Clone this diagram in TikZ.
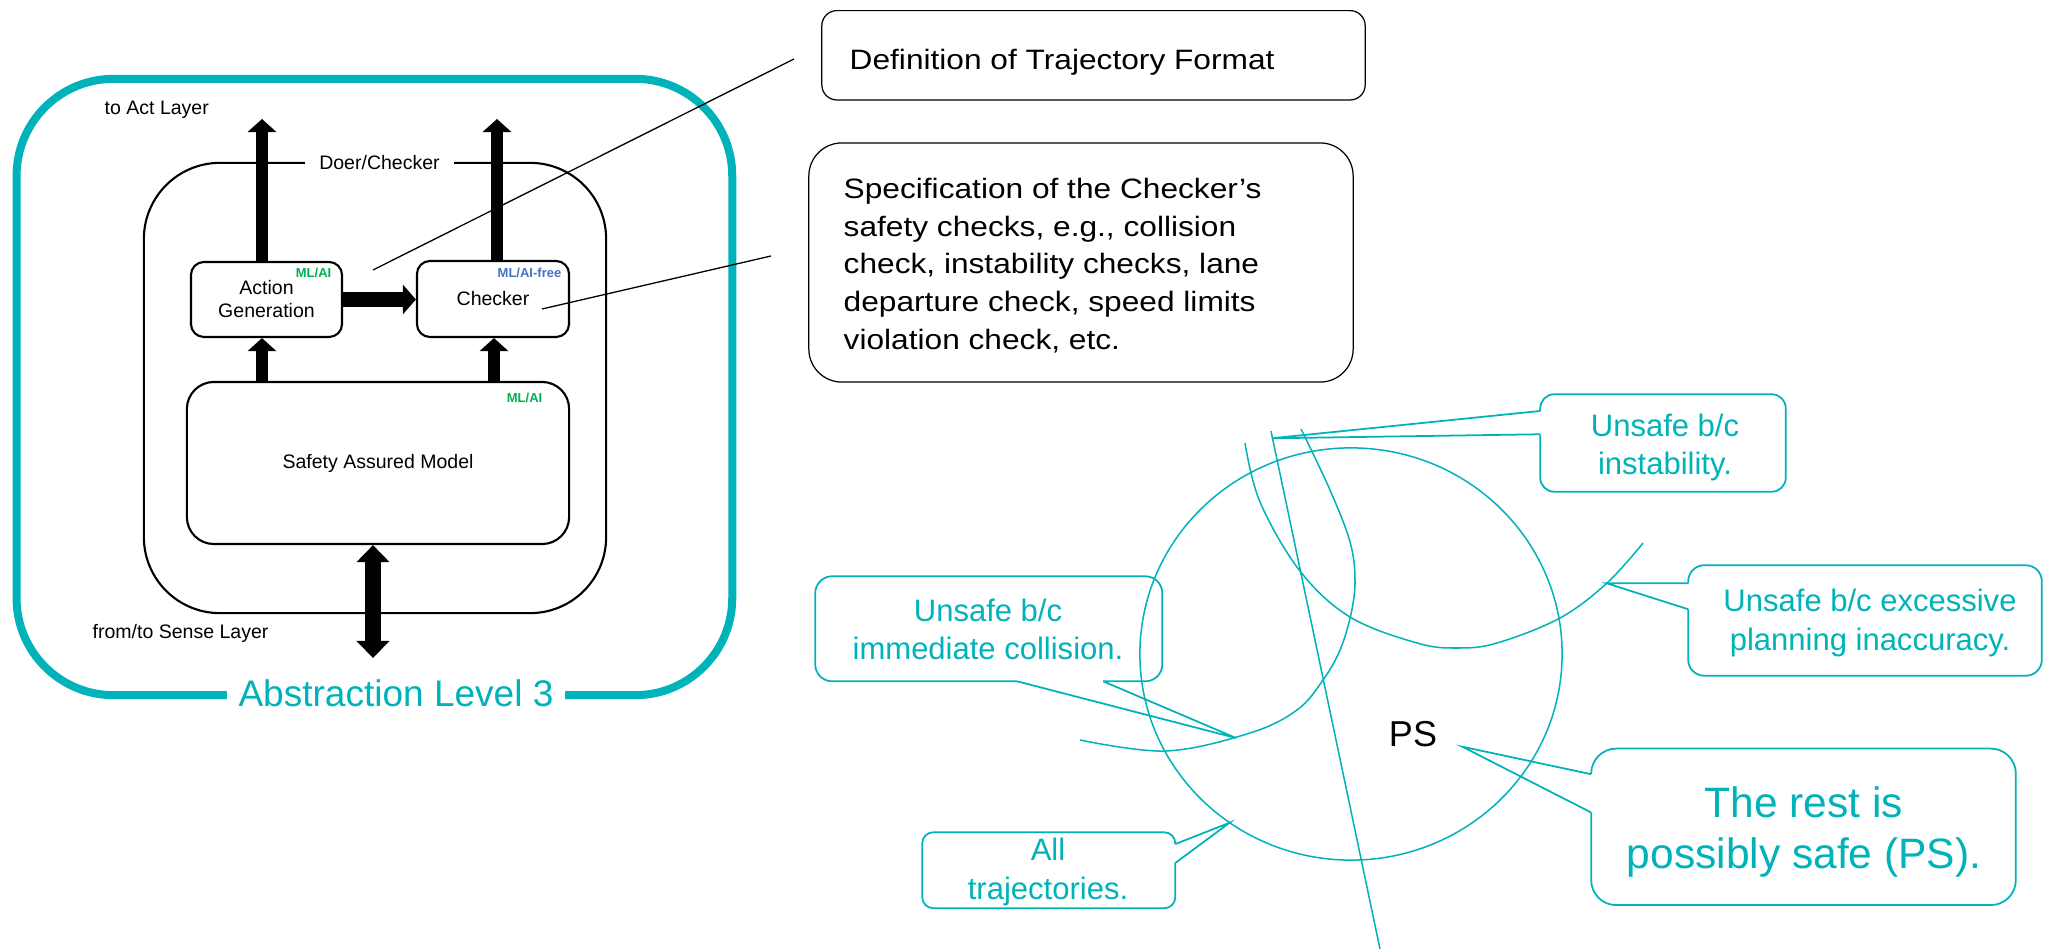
\documentclass[tikz,border=0pt]{standalone}
\usepackage{fontspec}
\setmainfont{Liberation Sans}
\newfontfamily\widesans[FakeStretch=1.13]{Liberation Sans}
\usetikzlibrary{arrows.meta,calc}
\definecolor{tealc}{RGB}{0,178,185}
\definecolor{mlgreen}{RGB}{0,176,80}
\definecolor{mlblue}{RGB}{68,114,196}
\newcommand\fsz[2]{\fontsize{#1}{#2}\selectfont}

\begin{document}
\begin{tikzpicture}[x=0.01cm,y=-0.01cm,
  frame/.style={draw=tealc,line width=2.28pt,rounded corners=0.97cm,inner sep=0,
    minimum width=7.153cm,minimum height=6.16cm},
  blkbox/.style={draw=black,line width=0.6pt,inner sep=0,align=center,
    font=\fsz{5.55pt}{6.54pt}},
  lbl/.style={inner sep=0,font=\fsz{5.55pt}{6.54pt}},
  tag/.style={inner sep=0,font=\fsz{3.7pt}{4.4pt}\bfseries,anchor=base east},
  fat/.style={line width=0.127cm,-{Triangle[width=0.28cm,length=0.13cm]}},
  fatside/.style={line width=0.15cm,-{Triangle[width=0.29cm,length=0.13cm]}},
  fatboth/.style={line width=0.16cm,
    {Triangle[width=0.32cm,length=0.17cm]}-{Triangle[width=0.32cm,length=0.17cm]}},
  note/.style={draw=black,line width=0.35pt,inner sep=0},
  notetext/.style={inner sep=0,anchor=base west,align=left,
    font=\widesans\fsz{7.97pt}{10.75pt}},
  pointer/.style={draw=black,line width=0.37pt},
  tcurve/.style={draw=tealc,line width=0.43pt},
  tcall/.style={draw=tealc,line width=0.5pt},
  tarea/.style={inner sep=0},
  ttext/.style={inner sep=0,text=tealc,align=center,anchor=base,
    font=\fsz{8.82pt}{10.95pt}}
]
\useasboundingbox (0,0) rectangle (2045,949);

% ---------- Abstraction level 3 frame ----------
\node[frame] (frame) at (374.4,387) {};
\node[fill=white,inner xsep=0.12cm,inner ysep=0.02cm,text=tealc,anchor=base,
  font=\fsz{10.53pt}{12.6pt}] (level) at (396,706) {Abstraction Level 3};

% ---------- Doer/Checker block ----------
\node[blkbox,minimum width=4.62cm,minimum height=4.5cm,rounded corners=0.76cm] (dc) at (375,388) {};
\node[lbl,fill=white,inner xsep=0.145cm,inner ysep=0.03cm,anchor=base] (dctitle) at (379.5,170) {Doer/Checker};

\node[blkbox,minimum width=1.51cm,minimum height=0.75cm,rounded corners=0.13cm] (act) at (266.5,299.5) {Action\\Generation};
\node[blkbox,minimum width=1.52cm,minimum height=0.76cm,rounded corners=0.13cm] (chk) at (493,299) {Checker};
\node[blkbox,minimum width=3.82cm,minimum height=1.62cm,rounded corners=0.27cm] (sam) at (378,463) {Safety Assured Model};

\node[tag,text=mlgreen] (acttag) at (332,278) {ML/AI};
\node[tag,text=mlblue] (chktag) at (562,278) {ML/AI-free};
\node[tag,text=mlgreen] (samtag) at (543,403) {ML/AI};

\node[lbl,anchor=base west] (toact) at (104,115) {to Act Layer};
\node[lbl,anchor=base west] (fromsense) at (92,639) {from/to Sense Layer};

% ---------- block arrows ----------
\coordinate (actout) at (262,119);
\coordinate (chkout) at (497,119);
\coordinate (xa) at (262,0);
\coordinate (xc) at (494,0);
\coordinate (sense) at (373,658);

\draw[fat] (act.north -| actout) -- (actout);
\draw[fat] (chk.north -| chkout) -- (chkout);
\draw[fatside] (act.east) -- (act.east -| chk.west);
\draw[fat] (sam.north -| xa) -- (act.south -| xa);
\draw[fat] (sam.north -| xc) -- (chk.south -| xc);
\draw[fatboth] (sam.south -| sense) -- (sense);

% ---------- notes ----------
\node[note,rounded corners=0.15cm,minimum width=5.43cm,minimum height=0.893cm] (defbox) at (1093.5,55.3) {};
\node[notetext] (deftext) at (849,69.3) {Definition of Trajectory Format};

\node[note,rounded corners=0.33cm,minimum width=5.44cm,minimum height=2.39cm] (specbox) at (1081,262.5) {};
\node[notetext] (spectext) at (843,349.5) {Specification of the Checker’s\\safety checks, e.g., collision\\check, instability checks, lane\\departure check, speed limits\\violation check, etc.};

\coordinate (defptr) at (373,270);
\coordinate (defend) at (794,59);
\coordinate (chkptr) at (542,309);
\coordinate (specend) at (771,256);
\draw[pointer] (defptr) -- (defend);
\draw[pointer] (chkptr) -- (specend);

% ---------- trajectory sets ----------
\draw[tcurve] (1351,654) ellipse [x radius=2.11cm,y radius=2.06cm];
\draw[tcurve] (1271,431) -- (1380,949);
\draw[tcurve] plot[smooth,tension=0.6] coordinates {(1301,429) (1330,490) (1350,542) (1355,580) (1351,614) (1340,650) (1323,680) (1297,710) (1250,733) (1166,751) (1080,740)};
\draw[tcurve] plot[smooth,tension=0.6] coordinates {(1245,443) (1260,502) (1300,571) (1350,617) (1417,643) (1457,648) (1497,643) (1560,618) (1607,583) (1643,543)};

\node[inner sep=0,anchor=base,font=\fsz{10.24pt}{12.3pt}] (ps) at (1413,746.7) {PS};

% ---------- callouts ----------
% instability
\node[tarea,minimum width=2.44cm,minimum height=0.96cm] (ibox) at (1663,443) {};
\coordinate (itip) at (1271.7,438.3);
\coordinate (ib1) at ($(ibox.north west)+(0,16.7)$);
\coordinate (ib2) at ($(ibox.north west)+(0,40)$);
\draw[tcall,rounded corners=0.14cm] (ib2) -- (ibox.south west) -- (ibox.south east) -- (ibox.north east) -- (ibox.north west) -- (ib1);
\draw[tcall] (ib1) -- (itip) -- (ib2);
\node[ttext] (itext) at (1665,475) {Unsafe b/c\\instability.};

% immediate collision
\node[tarea,minimum width=3.455cm,minimum height=1.036cm] (cbox) at (988.75,628.8) {};
\coordinate (ctip) at (1236,738);
\coordinate (cb1) at ($(cbox.south west)+(202,0)$);
\coordinate (cb2) at ($(cbox.south west)+(288,0)$);
\draw[tcall,rounded corners=0.17cm] (cb2) -- (cbox.south east) -- (cbox.north east) -- (cbox.north west) -- (cbox.south west) -- (cb1);
\draw[tcall] (cb1) -- (ctip) -- (cb2);
\node[ttext] (ctext) at (988,659.6) {Unsafe b/c\\immediate collision.};

% excessive planning inaccuracy
\node[tarea,minimum width=3.52cm,minimum height=1.09cm] (ebox) at (1865,620.5) {};
\coordinate (etip) at (1606.7,583.3);
\coordinate (eb1) at ($(ebox.north west)+(0,18)$);
\coordinate (eb2) at ($(ebox.north west)+(0,44)$);
\draw[tcall,rounded corners=0.16cm] (eb2) -- (ebox.south west) -- (ebox.south east) -- (ebox.north east) -- (ebox.north west) -- (eb1);
\draw[tcall] (eb1) -- (etip) -- (eb2);
\node[ttext] (etext) at (1870,650) {Unsafe b/c excessive\\planning inaccuracy.};

% all trajectories
\node[tarea,minimum width=2.515cm,minimum height=0.745cm] (abox) at (1048.75,870.25) {};
\coordinate (atip) at (1229.6,822.7);
\coordinate (ab1) at ($(abox.north east)+(0,11.8)$);
\coordinate (ab2) at ($(abox.north east)+(0,30.7)$);
\draw[tcall,rounded corners=0.11cm] (ab2) -- (abox.south east) -- (abox.south west) -- (abox.north west) -- (abox.north east) -- (ab1);
\draw[tcall] (ab1) -- (atip) -- (ab2);
\node[ttext] (atext) at (1048,899.5) {All\\trajectories.};

% possibly safe
\node[tarea,minimum width=4.23cm,minimum height=1.55cm] (rbox) at (1803.5,826.85) {};
\coordinate (rtip) at (1462.3,746.7);
\coordinate (rb1) at ($(rbox.north west)+(0,25.6)$);
\coordinate (rb2) at ($(rbox.north west)+(0,63.9)$);
\draw[tcall,rounded corners=0.25cm] (rb2) -- (rbox.south west) -- (rbox.south east) -- (rbox.north east) -- (rbox.north west) -- (rb1);
\draw[tcall] (rb1) -- (rtip) -- (rb2);
\node[ttext,font=\fsz{12.09pt}{14.5pt}] (rtext) at (1804,868) {The rest is\\possibly safe (PS).};
\end{tikzpicture}
\end{document}
